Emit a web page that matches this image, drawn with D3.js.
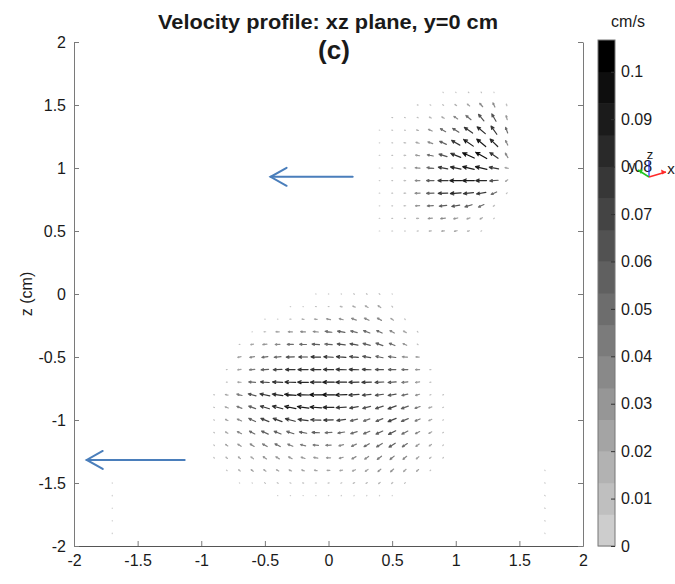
<!DOCTYPE html>
<html>
<head>
<meta charset="utf-8">
<script src="https://cdn.jsdelivr.net/npm/d3@7"></script>
<style>
  body { margin: 0; background: #fff; }
  svg { display: block; }
  text { font-family: "Liberation Sans", Arial, sans-serif; fill: #1a1a1a; }
</style>
</head>
<body>
<svg id="chart" width="675" height="584"></svg>
<script>
// ---- axis ticks ----
const xTicks = [-2, -1.5, -1, -0.5, 0, 0.5, 1, 1.5, 2];
const zTicks = [-2, -1.5, -1, -0.5, 0, 0.5, 1, 1.5, 2];
const speedTicks = [0, 0.01, 0.02, 0.03, 0.04, 0.05, 0.06, 0.07, 0.08, 0.09, 0.1];
const speedMax = 0.1067;      // cm/s, top of the colour bar
const speedLevels = 16;       // grey levels in the colour map
const gridStep = 0.1;         // cm between sample points

// ---- upper jet (rows of constant z), speeds in 1e-3 cm/s, directions in degrees ----
const upperZ  = [1.6, 1.5, 1.4, 1.3, 1.2, 1.1, 1.0, 0.9, 0.8, 0.7, 0.6, 0.5];
const upperX0 = [0.9, 0.7, 0.5, 0.4, 0.4, 0.4, 0.4, 0.4, 0.4, 0.4, 0.4, 0.4];
const upperSpeed = [
  [6, 6, 7, 7, 6],
  [8, 8, 10, 16, 24, 36, 36, 13],
  [8, 8, 10, 16, 21, 37, 52, 66, 66, 32],
  [6, 8, 8, 16, 32, 47, 58, 79, 84, 79, 47],
  [6, 8, 13, 26, 40, 58, 74, 92, 92, 84, 40],
  [6, 8, 13, 32, 47, 66, 84, 100, 100, 79, 40],
  [6, 8, 13, 37, 53, 74, 84, 92, 92, 74, 26],
  [6, 8, 13, 37, 58, 79, 92, 92, 84, 66, 21],
  [6, 8, 13, 40, 58, 74, 84, 79, 74, 47, 10],
  [6, 8, 13, 32, 47, 58, 63, 58, 47, 13],
  [6, 8, 10, 16, 32, 37, 32, 26, 21, 8],
  [6, 8, 8, 10, 16, 21, 21, 16, 8]
];
const upperAngle = [
  [150, 150, 140, 130, 120],
  [165, 160, 150, 145, 140, 130, 115, 110],
  [170, 165, 160, 155, 150, 145, 140, 130, 120, 105],
  [175, 170, 165, 165, 155, 150, 148, 145, 140, 125, 110],
  [178, 175, 170, 165, 160, 155, 150, 145, 140, 135, 115],
  [180, 178, 175, 170, 168, 162, 158, 155, 150, 145, 120],
  [180, 180, 178, 176, 172, 170, 168, 167, 167, 170, 165],
  [180, 180, 180, 180, 180, 180, 180, 180, 180, 185, 215],
  [180, 180, 180, 182, 182, 182, 184, 186, 190, 205, 220],
  [180, 180, 182, 183, 184, 186, 190, 197, 205, 220],
  [180, 180, 182, 184, 186, 188, 192, 200, 210, 220],
  [180, 180, 182, 184, 186, 188, 192, 195, 200]
];

// ---- lower jet ----
const lowerZ  = [0.0, -0.1, -0.2, -0.3, -0.4, -0.5, -0.6, -0.7, -0.8, -0.9, -1.0, -1.1, -1.2, -1.3, -1.4, -1.5, -1.6];
const lowerX0 = [-0.1, -0.3, -0.5, -0.6, -0.7, -0.7, -0.8, -0.8, -0.9, -0.9, -0.9, -0.9, -0.9, -0.9, -0.8, -0.7, -0.4];
const lowerSpeed = [
  [5, 5, 5, 8, 8, 10, 5],
  [5, 5, 8, 8, 16, 21, 26, 26, 10],
  [5, 5, 10, 16, 21, 32, 32, 40, 40, 37, 26, 8],
  [5, 13, 26, 32, 37, 40, 53, 58, 53, 53, 47, 40, 26, 8],
  [8, 21, 32, 37, 47, 53, 58, 58, 63, 63, 58, 58, 47, 32, 10],
  [26, 37, 47, 53, 63, 68, 74, 74, 74, 68, 63, 58, 58, 40, 26],
  [8, 26, 42, 58, 68, 74, 79, 79, 79, 79, 74, 68, 63, 58, 47, 32, 10],
  [8, 26, 53, 68, 79, 84, 84, 84, 90, 84, 79, 74, 68, 63, 47, 32, 10],
  [8, 21, 42, 63, 79, 84, 90, 90, 95, 95, 90, 79, 68, 63, 63, 47, 32, 10, 8],
  [8, 26, 42, 58, 74, 84, 90, 90, 90, 84, 79, 68, 63, 63, 68, 58, 42, 26, 8],
  [8, 21, 37, 58, 68, 74, 79, 79, 79, 74, 68, 58, 53, 58, 68, 58, 42, 26, 8],
  [8, 21, 37, 47, 58, 58, 58, 58, 58, 53, 53, 53, 53, 58, 63, 53, 37, 26, 8],
  [8, 21, 32, 37, 42, 47, 42, 42, 42, 42, 37, 42, 47, 53, 58, 47, 32, 21, 8],
  [8, 16, 21, 26, 32, 32, 32, 32, 32, 32, 32, 37, 37, 42, 42, 37, 26, 16, 8],
  [8, 16, 21, 21, 21, 21, 21, 21, 21, 21, 26, 26, 29, 32, 26, 21, 8],
  [5, 5, 10, 10, 10, 10, 10, 10, 10, 13, 13, 16, 13, 10],
  [4, 4, 4, 5, 5, 5, 5, 5, 5, 4]
];
const lowerAngle = [
  [170, 165, 160, 150, 145, 140, 140],
  [175, 175, 170, 170, 165, 155, 150, 145, 140],
  [180, 180, 178, 175, 172, 170, 165, 160, 155, 150, 145, 140],
  [185, 183, 180, 178, 176, 175, 172, 170, 165, 160, 155, 150, 150, 145],
  [190, 188, 186, 182, 180, 178, 176, 175, 173, 170, 165, 160, 158, 155, 150],
  [192, 190, 188, 185, 182, 180, 178, 177, 176, 174, 170, 168, 172, 175, 178],
  [190, 188, 186, 184, 182, 180, 180, 180, 179, 178, 178, 178, 179, 180, 180, 182, 185],
  [180, 178, 176, 176, 177, 178, 179, 180, 180, 180, 181, 182, 183, 184, 186, 188, 190],
  [170, 168, 165, 165, 168, 172, 175, 178, 180, 180, 182, 184, 186, 188, 190, 192, 195, 200, 200],
  [160, 158, 158, 160, 163, 165, 168, 172, 176, 180, 184, 190, 195, 198, 200, 200, 200, 200, 200],
  [155, 155, 155, 155, 158, 160, 165, 172, 178, 182, 188, 195, 200, 202, 203, 203, 203, 205, 205],
  [150, 150, 152, 152, 155, 158, 162, 170, 178, 183, 190, 198, 203, 205, 207, 208, 208, 210, 210],
  [145, 145, 145, 148, 150, 152, 158, 165, 175, 182, 195, 205, 210, 212, 213, 213, 215, 215, 215],
  [140, 140, 140, 142, 145, 148, 152, 160, 170, 180, 195, 210, 215, 218, 220, 220, 220, 220, 220],
  [140, 140, 140, 145, 150, 155, 160, 170, 180, 190, 205, 215, 220, 222, 222, 222, 220],
  [140, 140, 145, 150, 160, 170, 180, 190, 200, 210, 215, 220, 220, 220],
  [160, 170, 180, 190, 200, 210, 215, 220, 220, 220]
];

// ---- two faint columns near the side walls (columns of constant x) ----
const edgeX  = [-1.7, 1.7];
const edgeZ0 = [-1.5, -1.4];
const edgeSpeed = [[4, 4, 4, 4, 4], [4, 4, 6, 5, 4, 4]];
const edgeAngle = [[120, 120, 120, 120, 120], [300, 300, 315, 315, 300, 270]];

// ---- flow-direction annotations (cm) ----
const flowArrows = [
  { xFrom: 0.19, xTo: -0.455, z: 0.93 },
  { xFrom: -1.13, xTo: -1.9, z: -1.317 }
];

// ---------------------------------------------------------------
const svg = d3.select("#chart");
const x = d3.scaleLinear().domain([-2, 2]).range([74, 583]);
const z = d3.scaleLinear().domain([-2, 2]).range([546, 42]);
const cbar = d3.scaleLinear().domain([0, speedMax]).range([546, 40]);

const greys = d3.range(speedLevels).map(i => {
  const g = Math.round(205 * (1 - i / (speedLevels - 1)));
  return d3.rgb(g, g, g).formatHex();
});
const speedColor = d3.scaleQuantize().domain([0, speedMax]).range(greys);

// expand rows / columns into individual vectors
const vectors = [];
function addRows(zs, x0s, speeds, angles) {
  zs.forEach((zv, r) => speeds[r].forEach((s, j) =>
    vectors.push({ x: x0s[r] + j * gridStep, z: zv, s: s / 1000, a: angles[r][j] })));
}
addRows(upperZ, upperX0, upperSpeed, upperAngle);
addRows(lowerZ, lowerX0, lowerSpeed, lowerAngle);
edgeX.forEach((xv, c) => edgeSpeed[c].forEach((s, j) =>
  vectors.push({ x: xv, z: edgeZ0[c] - j * gridStep, s: s / 1000, a: edgeAngle[c][j] })));

// quiver: arrow length in cm = speed in cm/s * arrowScale, centred on the sample point
const arrowScale = 1.0;
function arrowPath(d) {
  const rad = d.a * Math.PI / 180;
  const u = d.s * Math.cos(rad) * arrowScale, w = d.s * Math.sin(rad) * arrowScale;
  const x1 = x(d.x - u / 2), y1 = z(d.z - w / 2);
  const x2 = x(d.x + u / 2), y2 = z(d.z + w / 2);
  const dx = x2 - x1, dy = y2 - y1, L = Math.hypot(dx, dy);
  if (L < 1.5) return `M${x1},${y1}L${x2 + 0.2},${y2}`;
  const ang = Math.atan2(dy, dx), h = L * 0.34, sp = 0.42;
  const hx1 = x2 - h * Math.cos(ang - sp), hy1 = y2 - h * Math.sin(ang - sp);
  const hx2 = x2 - h * Math.cos(ang + sp), hy2 = y2 - h * Math.sin(ang + sp);
  return `M${x1},${y1}L${x2},${y2}M${hx1},${hy1}L${x2},${y2}L${hx2},${hy2}`;
}

svg.append("g").attr("class", "quiver")
  .selectAll("path").data(vectors).join("path")
  .attr("d", arrowPath)
  .attr("fill", "none")
  .attr("stroke", d => speedColor(d.s))
  .attr("stroke-width", 1.2)
  .attr("stroke-linecap", "round")
  .attr("stroke-linejoin", "round");

// ---- axes ----
const fmt = d => String(d);
const axisColor = "#7a7a7a";

const gx = svg.append("g").attr("transform", `translate(0,${z(-2)})`)
  .call(d3.axisBottom(x).tickValues(xTicks).tickFormat(fmt).tickSize(-5).tickSizeOuter(0).tickPadding(9));
const gz = svg.append("g").attr("transform", `translate(${x(-2)},0)`)
  .call(d3.axisLeft(z).tickValues(zTicks).tickFormat(fmt).tickSize(-5).tickSizeOuter(0).tickPadding(8));
const gr = svg.append("g").attr("transform", `translate(${x(2)},0)`)
  .call(d3.axisRight(z).tickValues(zTicks).tickFormat("").tickSize(-5).tickSizeOuter(0));

[gx, gz, gr].forEach(g => {
  g.select(".domain").attr("stroke", axisColor);
  g.selectAll(".tick line").attr("stroke", axisColor);
  g.selectAll(".tick text").attr("font-size", 16)
    .attr("font-family", "'Liberation Sans', Arial, sans-serif").attr("fill", "#1a1a1a");
});
gx.select(".domain").attr("stroke", "#555");

// ---- colour bar ----
const cbX = 598, cbW = 17;
const bandStep = speedMax / speedLevels;
svg.append("g").selectAll("rect").data(greys).join("rect")
  .attr("x", cbX).attr("width", cbW)
  .attr("y", (c, i) => cbar((i + 1) * bandStep))
  .attr("height", (c, i) => cbar(i * bandStep) - cbar((i + 1) * bandStep) + 0.5)
  .attr("fill", c => c);
svg.append("rect").attr("x", cbX).attr("y", cbar(speedMax)).attr("width", cbW)
  .attr("height", cbar(0) - cbar(speedMax)).attr("fill", "none").attr("stroke", "#777");

const gc = svg.append("g").attr("transform", `translate(${cbX + cbW},0)`)
  .call(d3.axisRight(cbar).tickValues(speedTicks)
    .tickFormat(d => d === 0 ? "0" : String(+d.toFixed(2)))
    .tickSize(-4).tickSizeOuter(0).tickPadding(6));
gc.select(".domain").remove();
gc.selectAll(".tick line").attr("stroke", "#333");
gc.selectAll(".tick text").attr("font-size", 16)
  .attr("font-family", "'Liberation Sans', Arial, sans-serif").attr("fill", "#1a1a1a");

svg.append("text").attr("x", 628).attr("y", 27).attr("text-anchor", "middle")
  .attr("font-size", 16).text("cm/s");

// ---- small orientation triad drawn over the colour-bar labels ----
const triad = svg.append("g").attr("transform", "translate(649,177)");
triad.append("line").attr("x1", 0).attr("y1", 0).attr("x2", 0).attr("y2", -16).attr("stroke", "#2030ff").attr("stroke-width", 1.2);
triad.append("line").attr("x1", 0).attr("y1", 0).attr("x2", -11).attr("y2", -7).attr("stroke", "#22c422").attr("stroke-width", 1.5);
triad.append("line").attr("x1", 0).attr("y1", 0).attr("x2", 17).attr("y2", -5).attr("stroke", "#ff2a2a").attr("stroke-width", 1.5);
triad.append("path").attr("d", "M17,-5L12,-7.5L13,-2.5Z").attr("fill", "#ff2a2a");
triad.append("path").attr("d", "M-11,-7L-6,-7.5L-8,-3Z").attr("fill", "#22c422");
triad.append("text").attr("x", 1).attr("y", -18).attr("font-size", 13).attr("text-anchor", "middle").text("z");
triad.append("text").attr("x", -17).attr("y", -6).attr("font-size", 14).attr("text-anchor", "middle").text("y");
triad.append("text").attr("x", 22).attr("y", -3).attr("font-size", 15).attr("text-anchor", "middle").text("x");

// ---- flow direction annotations ----
const blue = "#4a7ebb";
const ann = svg.append("g").attr("fill", "none").attr("stroke", blue).attr("stroke-width", 2).attr("stroke-linecap", "round");
flowArrows.forEach(a => {
  const x1 = x(a.xFrom), x2 = x(a.xTo), y = z(a.z);
  ann.append("line").attr("x1", x1).attr("y1", y).attr("x2", x2).attr("y2", y);
  ann.append("path").attr("d", `M${x2 + 16},${y - 9}L${x2},${y}L${x2 + 16},${y + 9}`);
});

// ---- titles ----
svg.append("text").attr("x", 328).attr("y", 29).attr("text-anchor", "middle")
  .attr("font-size", 21).attr("font-weight", "bold")
  .attr("textLength", 340).attr("lengthAdjust", "spacingAndGlyphs")
  .text("Velocity profile: xz plane, y=0 cm");
svg.append("text").attr("x", 334).attr("y", 59).attr("text-anchor", "middle")
  .attr("font-family", "'Open Sans', sans-serif")
  .attr("font-size", 26).attr("font-weight", "bold").text("(c)");
svg.append("text").attr("transform", `translate(32,${z(0)}) rotate(-90)`)
  .attr("text-anchor", "middle").attr("font-size", 16).text("z (cm)");
</script>
</body>
</html>
